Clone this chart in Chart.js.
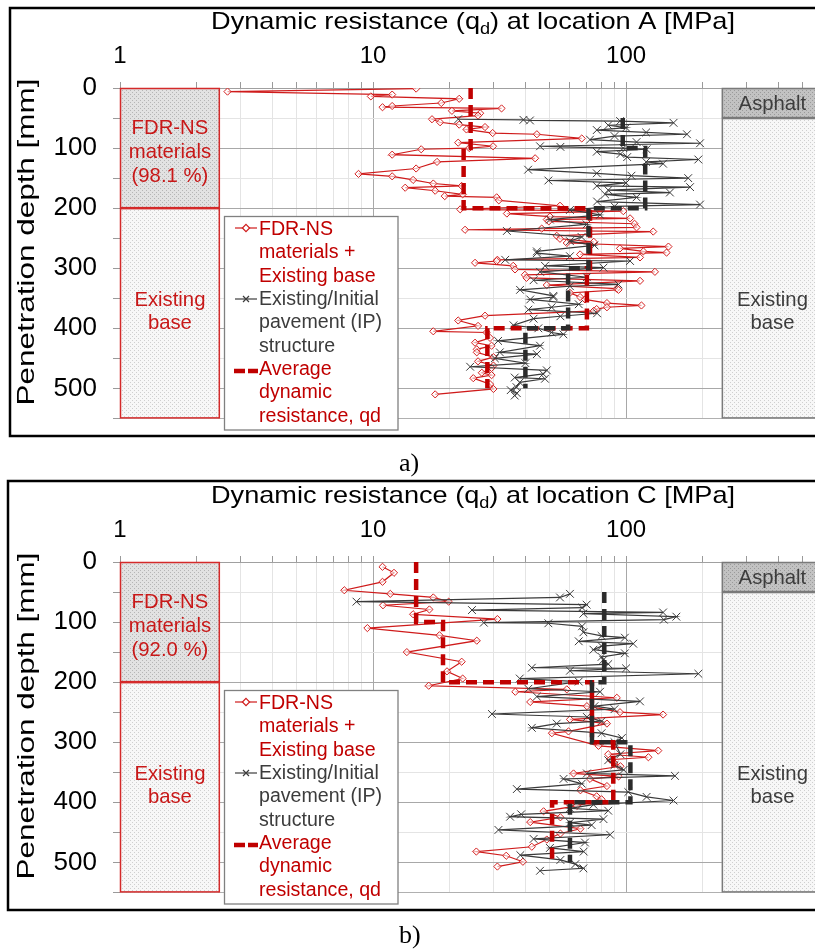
<!DOCTYPE html>
<html><head><meta charset="utf-8">
<script src="https://cdn.jsdelivr.net/npm/chart.js@4.4.1/dist/chart.umd.min.js"></script>
<style>
html,body{margin:0;padding:0;overflow:hidden;background:#fff;width:815px;height:951px;}
.wrap{position:absolute;left:0;width:845px;height:450px;}
.lab{position:absolute;font-family:'Liberation Serif','Times New Roman',serif;font-size:26px;line-height:30px;color:#000;}
</style></head><body>
<div class="wrap" style="top:0"><canvas id="cA" width="845" height="450"></canvas></div>
<div class="lab" style="left:399px;top:448px">a)</div>
<div class="wrap" style="top:474px"><canvas id="cB" width="845" height="450"></canvas></div>
<div class="lab" style="left:399px;top:920px">b)</div>
<script>
// ---------------- DATA ----------------
// Location A : FDR-NS materials + Existing base
const depthA_FDR = [1,6,11,14,18,25,30,32,34,38,
 42,46,52,57,61,65,69,75,77,84,
 91,97,100,102,111,117,123,134,143,147,
 153,159,163,166,171,177,180,182,187,196,
 202,205,209,214,217,219,222,226,232,234,
 236,239,246,251,256,258,264,267,272,274,
 277,282,286,288,291,296,302,306,311,316,
 321,328,334,336,341,348,352,358,362,365,
 368,371,379,387,396,405,407,416,424,429,
 435,440,448,455,462,466,474,478,483,493,
 501,510];
const qdA_FDR = [14.8,2.66,11.9,9.8,21.9,18.6,11.9,10.9,32.2,20.5,
 26.5,26,17.1,18.4,21.9,27.7,23.4,29.7,44.4,66.8,
 21.7,29.8,24,15.5,11.9,43.7,17.9,14.8,8.76,11.9,
 14.4,17.3,22.4,13.4,17.6,22.6,19.2,30.8,31.4,54.8,
 22.1,97.5,33.8,50,103.7,48.6,49.5,108,110,46.4,
 23.1,128,53.2,54.8,74.5,58.3,147,94.6,117,144.5,
 65.8,113.5,31,30.8,25.3,35.8,36.4,130,39.8,40.4,
 113.5,48.6,91.9,93.3,60,65.8,68.8,84,115,84,
 76.5,74.5,27.7,21.7,26,17.3,28.1,29,25.3,29.4,
 25.7,25.7,29.9,26,29.9,29.4,26.9,29.4,24.9,29,
 29.9,17.6];
// Location A : Existing / initial pavement (IP) structure
const depthA_IP = [52,53,54,55,58,62,66,70,74,77,
 80,86,90,92,97,98,100,102,106,110,
 115,119,123,126,136,142,146,150,154,158,
 163,165,170,174,177,182,189,194,197,203,
 211,219,227,238,248,255,262,272,275,280,
 286,288,296,299,306,315,320,327,330,336,
 346,348,352,360,365,369,375,380,384,395,
 400,407,410,421,429,440,443,450,458,464,
 470,476,482,484,490,498,503,508,512];
const qdA_IP = [21.7,39.3,41.7,94.7,154,85,100,76.6,120,174,
 90,72,110,196,45.7,55,97.5,120.5,76.6,95,
 101,193,120,140,41,76.6,105,176,49.3,100,
 76.6,179,85,149,82.6,110,76.8,196,90,60,
 78.9,50,69.8,33.8,66.7,60,75,44.4,44.4,60,
 33.3,103.7,47.8,81.4,45.7,70,43.1,93.3,60,38.1,
 51.6,51.6,41.8,65,50.8,41.1,76.8,55,43.1,35.9,
 45,50.8,56.5,31.2,45.7,31.7,44.4,30.3,40,24.2,
 48.6,47,36.3,47.8,38,36.9,35,37,36.3];
// Location A : average dynamic resistance (step lines)
const avgDepthA_FDR = [0,100,100,200,200,300,300,400,400,500];
const avgA_FDR = [24.3,24.3,22.8,22.8,72,72,70,70,28.3,28.3];
const avgDepthA_IP = [50,100,100,200,200,300,300,400,400,500];
const avgA_IP = [97,97,119,119,71,71,59,59,40,40];

// Location C : FDR-NS materials + Existing base
const depthC_FDR = [8,18,33,47,53,59,66,72,79,87,
 95,110,122,131,150,166,182,194,206,212,
 216,226,233,240,250,254,262,269,282,285,
 306,314,320,325,329,335,340,352,357,361,
 373,380,390,395,406,415,425,433,444,452,
 462,474,482,489,499,507];
const qdC_FDR = [10.9,12.1,10.9,7.7,11.7,17.3,19.9,10.95,16.7,14.4,
 31,9.5,18.3,25.7,13.6,22.4,19.6,22.6,16.6,58.3,
 36.5,91.9,41.8,70,94.6,140,60,84,59.2,50.9,
 77.8,134,85,122.5,86.5,90,95,62,93.4,72,
 84,66,76.5,80,63.9,47.2,55,41.8,66,55,
 48.6,42.4,25.6,33.6,39.1,31];
// Location C : Existing / initial pavement (IP) structure
const depthC_IP = [53,59,66,71,76,80,84,86,91,96,
 101,102,107,117,123,126,132,136,140,146,
 152,158,163,170,176,177,181,186,194,199,
 211,216,224,232,240,245,253,258,265,269,
 276,285,293,300,320,330,338,346,352,356,
 361,369,378,383,391,397,404,410,414,420,
 424,428,434,438,446,454,461,467,476,482,
 488,496,503,510,514];
const qdC_IP = [60,54.8,8.6,69.8,67,24.6,140,67.8,158,141,
 27.4,49.3,67,67.8,80,98.9,65,106.7,80,74.3,
 98.9,80,81.3,85,42.4,100,60,193,38,65,
 41.1,78.9,44.4,113.5,75,90,29.5,70,80,53.2,
 42.4,80,96.2,90,95,85,90,97.8,70,156,
 56.6,66.8,37,102,120.5,154,74.3,60,85,38.5,
 34.8,81.4,60,73.1,31.3,86.5,43.1,68.8,50,68,
 38.2,55,63,67.8,45.7];
// Location C : average dynamic resistance (step lines)
const avgDepthC_FDR = [0,100,100,200,200,300,300,400,400,500];
const avgC_FDR = [14.8,14.8,18.9,18.9,73.3,73.3,89,89,51,51];
const avgDepthC_IP = [50,200,200,300,300,400,400,500];
const avgC_IP = [82,82,73.3,73.3,104,104,60,60];

// Axis ticks
const xTickValues = [1,2,3,4,5,6,7,8,9,10,20,30,40,50,60,70,80,90,100,200,300,400,500,600];
const xTickLabels = [1,10,100];
const yTickValues = [0,50,100,150,200,250,300,350,400,450,500,550];

// Layer boxes (qd and depth extents)
const X_MIN = 1, X_MAX = 600, Y_MAX = 550;
const LEFT_BOX_EDGE = 2.48, RIGHT_BOX_EDGE = 239;
const FDR_LAYER_BOTTOM = 200, ASPHALT_BOTTOM = 50;

// ---------------- DRAWING ----------------
const FONT = '"Liberation Sans", Arial, sans-serif';
Chart.defaults.font.family = FONT;
const RED = '#c00000', DARK = '#3c3c3c';

function makePattern(ctx, base, dot) {
  const c = document.createElement('canvas'); c.width = 4; c.height = 4;
  const g = c.getContext('2d');
  g.fillStyle = base; g.fillRect(0,0,4,4);
  g.fillStyle = dot; g.fillRect(0,0,1,1); g.fillRect(2,2,1,1);
  return ctx.createPattern(c, 'repeat');
}
function text(ctx, s, x, y, size, color, align) {
  ctx.save();
  ctx.font = size + 'px ' + FONT; ctx.fillStyle = color;
  ctx.textAlign = align || 'center'; ctx.textBaseline = 'alphabetic';
  ctx.fillText(s, x, y); ctx.restore();
}

const layerPlugin = {
  id: 'layers',
  beforeDatasetsDraw(chart, args, o) {
    const {ctx, chartArea: a, scales: {x, y}} = chart;
    const X = v => x.getPixelForValue(v), Y = v => y.getPixelForValue(v);
    const rect = (x0, x1, y0, y1, fill, stroke) => {
      ctx.save(); ctx.fillStyle = fill; ctx.fillRect(X(x0), Y(y0), X(x1)-X(x0), Y(y1)-Y(y0));
      ctx.strokeStyle = stroke; ctx.lineWidth = 1.5;
      ctx.strokeRect(X(x0)+0.5, Y(y0)+0.5, X(x1)-X(x0)-1, Y(y1)-Y(y0)-1); ctx.restore();
    };
    rect(X_MIN, LEFT_BOX_EDGE, 0, FDR_LAYER_BOTTOM, makePattern(ctx,'#e2e2e2','#b5b5b5'), '#d42a2a');
    rect(X_MIN, LEFT_BOX_EDGE, FDR_LAYER_BOTTOM, Y_MAX, makePattern(ctx,'#f7f7f7','#cfcfcf'), '#d42a2a');
    rect(RIGHT_BOX_EDGE, X_MAX, 0, ASPHALT_BOTTOM, makePattern(ctx,'#c2c2c2','#9a9a9a'), '#7a7a7a');
    rect(RIGHT_BOX_EDGE, X_MAX, ASPHALT_BOTTOM, Y_MAX, makePattern(ctx,'#f7f7f7','#cfcfcf'), '#7a7a7a');
    const lc = (X(X_MIN)+X(LEFT_BOX_EDGE))/2, rc = (X(RIGHT_BOX_EDGE)+X(X_MAX))/2, t = a.top;
    text(ctx,'FDR-NS',lc,t+46,20.3,'#c81818');
    text(ctx,'materials',lc,t+70,20.3,'#c81818');
    text(ctx,'(' + o.pct + ' %)',lc,t+94,20.3,'#c81818');
    text(ctx,'Existing',lc,t+218,20.3,'#c81818');
    text(ctx,'base',lc,t+241,20.3,'#c81818');
    text(ctx,'Asphalt',rc,t+22,20.3,DARK);
    text(ctx,'Existing',rc,t+218,20.3,DARK);
    text(ctx,'base',rc,t+241,20.3,DARK);
  },
  afterDatasetsDraw(chart, args, o) {
    const {ctx} = chart;
    // legend
    const L = 224.5, T = 216.5, R = 398, B = 430;
    ctx.save();
    ctx.fillStyle = '#fff'; ctx.fillRect(L, T, R-L, B-T);
    ctx.strokeStyle = '#808080'; ctx.lineWidth = 1.3; ctx.strokeRect(L, T, R-L, B-T);
    ctx.lineWidth = 1.2; ctx.strokeStyle = '#cf1b1b';
    ctx.beginPath(); ctx.moveTo(235,228); ctx.lineTo(257,228); ctx.stroke();
    ctx.fillStyle = '#fff'; ctx.beginPath(); ctx.moveTo(246,224.4); ctx.lineTo(249.6,228); ctx.lineTo(246,231.6); ctx.lineTo(242.4,228); ctx.closePath(); ctx.fill(); ctx.stroke();
    ctx.strokeStyle = DARK;
    ctx.beginPath(); ctx.moveTo(235,299); ctx.lineTo(257,299); ctx.stroke();
    ctx.beginPath(); ctx.moveTo(243,296); ctx.lineTo(249,302); ctx.moveTo(249,296); ctx.lineTo(243,302); ctx.stroke();
    ctx.strokeStyle = RED; ctx.lineWidth = 4.5;
    ctx.beginPath(); ctx.moveTo(234,371); ctx.lineTo(245,371); ctx.moveTo(248,371); ctx.lineTo(258,371); ctx.stroke();
    ctx.restore();
    const lines = [['FDR-NS',RED],['materials +',RED],['Existing base',RED],
      ['Existing/Initial',DARK],['pavement (IP)',DARK],['structure',DARK],
      ['Average',RED],['dynamic',RED],['resistance, qd',RED]];
    lines.forEach((l,i) => text(ctx, l[0], 259, 235 + i*23.35, 19.6, l[1], 'left'));
  },
  afterDraw(chart, args, o) {
    const {ctx, chartArea: a} = chart;
    ctx.save();
    // frame
    ctx.strokeStyle = '#000'; ctx.lineWidth = 2.5;
    ctx.strokeRect(o.frameLeft, o.frameTop, chart.width + 20, 436 - o.frameTop);
    // x title with subscript
    const p1 = 'Dynamic resistance (q', sub = 'd', p2 = ') at location ' + o.loc + ' [MPa]';
    const fs = 24, ss = 16;
    ctx.font = fs + 'px ' + FONT; const w1 = ctx.measureText(p1).width, w3 = ctx.measureText(p2).width;
    ctx.font = ss + 'px ' + FONT; const w2 = ctx.measureText(sub).width;
    const total = w1 + w2 + w3, target = 524, sx = target / total;
    ctx.translate(473 - target/2, 29); ctx.scale(sx, 1);
    ctx.fillStyle = '#000'; ctx.textBaseline = 'alphabetic'; ctx.textAlign = 'left';
    ctx.font = fs + 'px ' + FONT; ctx.fillText(p1, 0, 0);
    ctx.font = ss + 'px ' + FONT; ctx.fillText(sub, w1, 5);
    ctx.font = fs + 'px ' + FONT; ctx.fillText(p2, w1 + w2, 0);
    ctx.restore();
    // y title
    ctx.save();
    const yt = 'Penetration depth [mm]';
    ctx.font = '24px ' + FONT; const yw = ctx.measureText(yt).width;
    ctx.translate(34, 242); ctx.rotate(-Math.PI/2); ctx.scale(327/yw, 1);
    ctx.fillStyle = '#000'; ctx.textAlign = 'center'; ctx.textBaseline = 'alphabetic';
    ctx.fillText(yt, 0, 0);
    ctx.restore();
  }
};

const pts = (d, q) => d.map((y, i) => ({x: q[i], y}));

function build(id, fdrD, fdrQ, ipD, ipQ, aFD, aFQ, aID, aIQ, loc, pct, frameLeft, frameTop) {
  const majorX = v => xTickLabels.includes(v);
  new Chart(document.getElementById(id), {
    type: 'scatter',
    data: { datasets: [
      {label:'FDR-NS materials + Existing base', data: pts(fdrD, fdrQ), showLine:true, borderColor:'#cf1b1b', borderWidth:1.2,
       pointStyle:'rectRot', pointRadius:3.6, pointBorderColor:'#d42020', pointBackgroundColor:'rgba(255,255,255,0.6)', pointBorderWidth:1, order:3},
      {label:'Existing/Initial pavement (IP) structure', data: pts(ipD, ipQ), showLine:true, borderColor:'#3a3a3a', borderWidth:1.2,
       pointStyle:'crossRot', pointRadius:5.5, pointBorderColor:'#3a3a3a', pointBorderWidth:1, order:2},
      {label:'Average dynamic resistance, qd', data: pts(aFD, aFQ), showLine:true, borderColor:RED, borderWidth:4.5,
       borderDash:[11,6], borderCapStyle:'butt', pointRadius:0, order:1},
      {label:'Average IP', data: pts(aID, aIQ), showLine:true, borderColor:'#2b2b2b', borderWidth:4.5,
       borderDash:[11,6], borderCapStyle:'butt', pointRadius:0, order:0}
    ]},
    options: {
      responsive:false, animation:false, devicePixelRatio:1,
      layout: {padding: {left:0, top:0, right:22, bottom:18}},
      plugins: {legend:{display:false}, tooltip:{enabled:false},
        layers: {loc, pct, frameLeft, frameTop}},
      scales: {
        x: {type:'logarithmic', position:'top', min:X_MIN, max:X_MAX,
          afterBuildTicks: s => { s.ticks = xTickValues.map(v => ({value:v})); },
          afterFit: s => { s.height = 88; },
          ticks: {autoSkip:false, maxRotation:0, minRotation:0, padding:11, color:'#000', font:{size:24},
            callback: v => majorX(v) ? String(v) : ''},
          grid: {color: c => c.tick && majorX(c.tick.value) ? '#a8a8a8' : '#e4e4e4', tickLength:6, tickColor:'#9a9a9a', lineWidth:1},
          border: {color:'#a0a0a0'}},
        y: {type:'linear', reverse:true, min:0, max:Y_MAX,
          afterBuildTicks: s => { s.ticks = yTickValues.map(v => ({value:v})); },
          afterFit: s => { s.width = 120; },
          ticks: {autoSkip:false, padding:16, color:'#000', font:{size:26},
            callback: v => v % 100 === 0 ? String(v) : ''},
          grid: {color: c => c.tick && c.tick.value % 100 === 0 ? '#a8a8a8' : (c.tick && c.tick.value === Y_MAX ? '#b0b0b0' : '#e4e4e4'),
            tickLength:7, tickColor:'#9a9a9a', lineWidth:1},
          border: {color:'#a0a0a0'}}
      }
    },
    plugins: [layerPlugin]
  });
}
build('cA', depthA_FDR, qdA_FDR, depthA_IP, qdA_IP, avgDepthA_FDR, avgA_FDR, avgDepthA_IP, avgA_IP, 'A', '98.1', 10, 8);
build('cB', depthC_FDR, qdC_FDR, depthC_IP, qdC_IP, avgDepthC_FDR, avgC_FDR, avgDepthC_IP, avgC_IP, 'C', '92.0', 8, 7);
</script>
</body></html>
